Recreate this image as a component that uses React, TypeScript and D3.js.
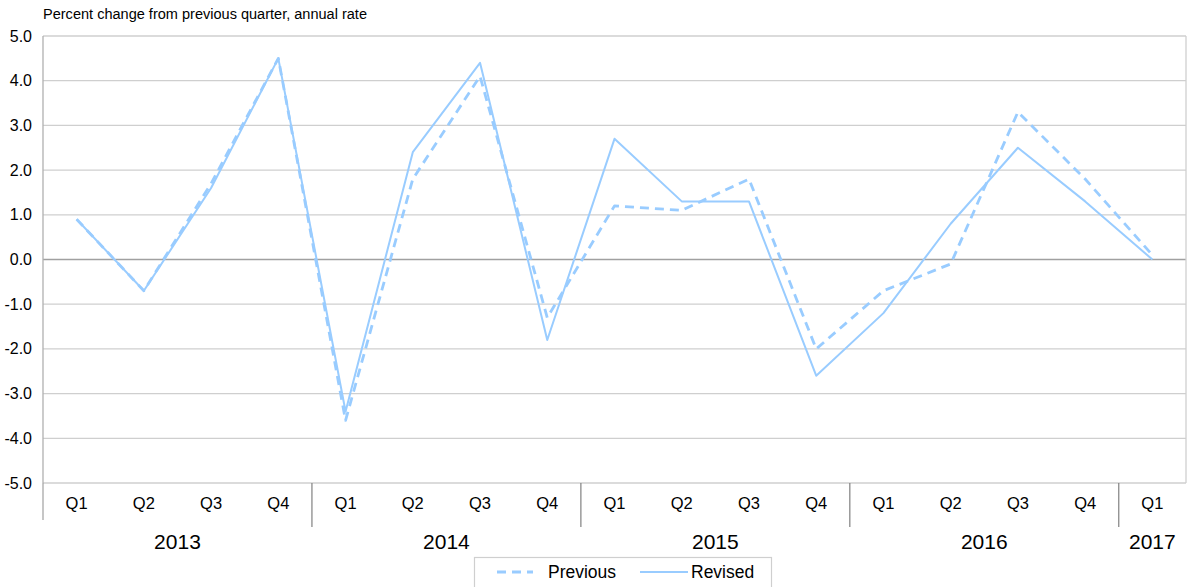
import React from 'react';
import * as d3 from 'd3';

const quarters = ['Q1', 'Q2', 'Q3', 'Q4', 'Q1', 'Q2', 'Q3', 'Q4', 'Q1', 'Q2', 'Q3', 'Q4', 'Q1', 'Q2', 'Q3', 'Q4', 'Q1'];
const years = ['2013', '2014', '2015', '2016', '2017'];
const yearStart = [0, 4, 8, 12, 16];
const previous = [0.9, -0.7, 1.7, 4.5, -3.6, 1.8, 4.1, -1.3, 1.2, 1.1, 1.8, -2.0, -0.7, -0.1, 3.3, 1.8, 0.1];
const revised = [0.9, -0.7, 1.6, 4.5, -3.4, 2.4, 4.4, -1.8, 2.7, 1.3, 1.3, -2.6, -1.2, 0.8, 2.5, 1.3, 0.0];
const yTicks = [5, 4, 3, 2, 1, 0, -1, -2, -3, -4, -5];

const width = 1188;
const height = 587;
const marginLeft = 43;
const marginRight = 2;
const marginTop = 36;
const plotBottom = 483;
const lineColor = '#99ccff';
const font = '"Liberation Sans", Arial, sans-serif';

export default function App() {
  const keys = quarters.map((_, i) => String(i));
  const x = d3.scaleBand<string>().domain(keys).range([marginLeft, width - marginRight]).padding(0);
  const y = d3.scaleLinear().domain([-5, 5]).range([plotBottom, marginTop]);
  const cx = (i: number) => (x(String(i)) ?? 0) + x.bandwidth() / 2;

  const line = d3.line<number>().x((d, i) => cx(i)).y(d => y(d));

  const yearEdges = yearStart.map(i => x(String(i)) ?? 0);
  const yearEnds = yearStart.map((s, k) => (k < yearStart.length - 1 ? yearEdges[k + 1] : width - marginRight));

  return (
    <svg width={width} height={height} style={{ position: 'absolute', left: 0, top: 0, background: '#fff' }} fontFamily={font}>
      <text x={43} y={19} fontSize={14} textLength={324} lengthAdjust="spacingAndGlyphs" fill="#000">Percent change from previous quarter, annual rate</text>

      {/* gridlines */}
      {yTicks.map(t => (
        <line key={t} x1={marginLeft} x2={width - marginRight} y1={y(t)} y2={y(t)}
          stroke={t === 0 ? '#a0a0a0' : '#cfcfcf'} strokeWidth={1.3} />
      ))}
      <line x1={width - marginRight} x2={width - marginRight} y1={marginTop} y2={plotBottom} stroke="#cfcfcf" strokeWidth={1.3} />
      <line x1={marginLeft} x2={marginLeft} y1={marginTop} y2={plotBottom} stroke="#b0b0b0" strokeWidth={1.3} />

      {/* y tick labels */}
      {yTicks.map(t => (
        <text key={t} x={32} y={y(t) + 5.5} textAnchor="end" fontSize={16} fill="#000">{t.toFixed(1)}</text>
      ))}

      {/* category axis */}
      {quarters.map((q, i) => (
        <text key={i} x={cx(i)} y={509} textAnchor="middle" fontSize={16.5} fill="#000">{q}</text>
      ))}
      {yearEdges.map((xe, k) => (
        <line key={k} x1={xe} x2={xe} y1={plotBottom} y2={k === 0 ? 520 : 527} stroke={k === 0 ? '#a0a0a0' : '#808080'} strokeWidth={1.2} />
      ))}
      {years.map((yr, k) => (
        <text key={yr} x={(yearEdges[k] + yearEnds[k]) / 2} y={549} textAnchor="middle" fontSize={21} fill="#000">{yr}</text>
      ))}

      {/* series */}
      <path d={line(previous) ?? ''} fill="none" stroke={lineColor} strokeWidth={2.8} strokeDasharray="9 6" strokeLinejoin="round" />
      <path d={line(revised) ?? ''} fill="none" stroke={lineColor} strokeWidth={2} strokeLinejoin="round" />

      {/* legend */}
      <rect x={474.5} y={557.5} width={297} height={40} fill="#fff" stroke="#cfcfcf" strokeWidth={1.2} />
      <line x1={497} x2={533} y1={572} y2={572} stroke={lineColor} strokeWidth={2.8} strokeDasharray="9 6" />
      <text x={548} y={578} fontSize={17.5} fill="#000">Previous</text>
      <line x1={640} x2={688} y1={572} y2={572} stroke={lineColor} strokeWidth={2} />
      <text x={691} y={578} fontSize={17.5} fill="#000">Revised</text>
    </svg>
  );
}
